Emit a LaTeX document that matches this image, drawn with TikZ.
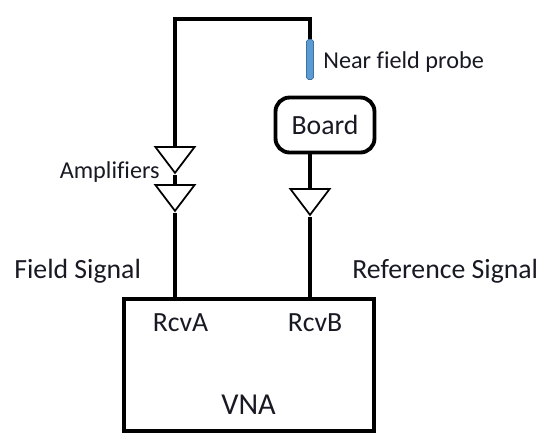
\documentclass[tikz,border=0pt]{standalone}
\usepackage{fontspec}
\setmainfont[Ligatures=NoCommon]{Carlito}
\usetikzlibrary{shapes.geometric,positioning,calc}
\definecolor{ProbeB}{RGB}{91,155,213}
\definecolor{ProbeE}{RGB}{65,113,156}
\definecolor{TextD} {RGB}{25,25,35}
\tikzset{
  wire/.style={black,line width=2.2pt},
  label/.style={TextD,font=\fontsize{15.8}{18}\selectfont,inner sep=0pt},
  small/.style={TextD,font=\fontsize{13.8}{16}\selectfont,inner sep=0pt},
  ampl/.style={isosceles triangle,isosceles triangle stretches,shape border rotate=270,
    draw=black,fill=white,line width=1pt,minimum width=22.4pt,minimum height=14.8pt,
    inner sep=0pt,anchor=lower side},
}
\begin{document}
\begin{tikzpicture}[x=0.02cm,y=-0.02cm]
  \useasboundingbox (0,0) rectangle (556,444);
  \node[draw=black,line width=2.2pt,anchor=north west,inner sep=0pt,
    minimum width=5cm,minimum height=2.64cm] (vna) at (122,297) {};
  \node[draw=black,line width=2.2pt,rounded corners=8pt,inner sep=0pt,
    minimum width=1.98cm,minimum height=1.1cm] (board) at (325,125) {};
  \node[fill=ProbeB,draw=ProbeE,line width=0.4pt,rounded corners=1pt,inner sep=0pt,
    minimum width=0.14cm,minimum height=0.8cm] (probe) at (310,59.5) {};
  \node[label] at (board.center) {Board};
  \node[small,anchor=west] (probelabel) at (323,62) {Near field probe};
  \node[small,anchor=east] (amplabel) at (160,172) {Amplifiers};
  \node[label,anchor=west] (fieldlabel) at (14,271) {Field Signal};
  \node[label,anchor=west] (reflabel) at (352,271) {Reference Signal};
  \node[label] (rcva) at (180.5,323) {RcvA};
  \node[label] (rcvb) at (315,323) {RcvB};
  \node[label,font=\fontsize{17.3}{20}\selectfont] (vnalabel) at (248.5,405) {VNA};
  \node[ampl] (ampa) at (175,146) {};
  \node[ampl] (ampb) at (175,184) {};
  \node[ampl] (ampc) at (310,188) {};
  \coordinate (corner) at (310,19);
  \draw[wire] (ampa.lower side) |- (corner) -- (probe.north);
  \draw[wire] (ampa.apex) -- (ampb.lower side);
  \draw[wire] (ampb.apex) -- (ampb.apex |- vna.north);
  \draw[wire] (board.south -| ampc.lower side) -- (ampc.lower side);
  \draw[wire] (ampc.apex) -- (ampc.apex |- vna.north);
\end{tikzpicture}
\end{document}
